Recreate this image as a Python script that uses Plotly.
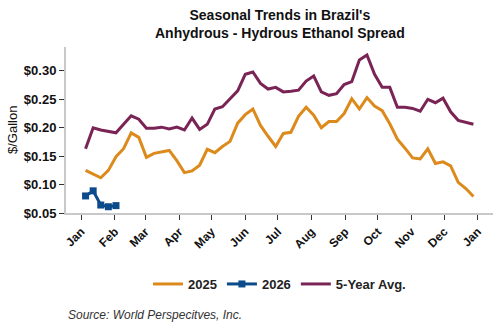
import plotly.graph_objects as go
import pandas as pd

# Weekly dates (seasonal axis, plotted on a 2025 calendar)
weeks = pd.date_range("2025-01-05", periods=52, freq="7D")

month_ticks = pd.date_range("2025-01-01", "2026-01-01", freq="MS")
month_labels = ["Jan", "Feb", "Mar", "Apr", "May", "Jun", "Jul", "Aug", "Sep",
                "Oct", "Nov", "Dec", "Jan"]

y_ticks = [0.05, 0.10, 0.15, 0.20, 0.25, 0.30]
y_labels = ["$0.05", "$0.10", "$0.15", "$0.20", "$0.25", "$0.30"]

y2025 = [0.125, 0.119, 0.112, 0.125, 0.149, 0.163, 0.191, 0.183, 0.148, 0.155,
         0.157, 0.160, 0.142, 0.121, 0.124, 0.134, 0.162, 0.156, 0.167, 0.176,
         0.208, 0.223, 0.233, 0.204, 0.185, 0.167, 0.190, 0.192, 0.220, 0.236,
         0.222, 0.200, 0.211, 0.211, 0.225, 0.251, 0.233, 0.253, 0.238, 0.230,
         0.207, 0.180, 0.164, 0.147, 0.145, 0.163, 0.137, 0.140, 0.133, 0.104,
         0.093, 0.079]

y2026 = [0.080, 0.089, 0.064, 0.061, 0.063]

avg5 = [0.163, 0.200, 0.196, 0.193, 0.191, 0.206, 0.221, 0.215, 0.199, 0.199,
        0.201, 0.198, 0.201, 0.196, 0.217, 0.197, 0.206, 0.233, 0.237, 0.251,
        0.265, 0.294, 0.298, 0.278, 0.268, 0.271, 0.263, 0.264, 0.266, 0.282,
        0.291, 0.263, 0.257, 0.260, 0.276, 0.281, 0.319, 0.328, 0.294, 0.271,
        0.271, 0.236, 0.236, 0.234, 0.229, 0.250, 0.244, 0.252, 0.228, 0.213,
        0.210, 0.206]

FONT = "Liberation Sans, Arial, sans-serif"

fig = go.Figure()
fig.add_trace(go.Scatter(x=weeks, y=y2025, name="<b>2025</b>", mode="lines",
                         line=dict(color="#DC8A1C", width=3)))
fig.add_trace(go.Scatter(x=weeks[:len(y2026)], y=y2026, name="<b>2026</b>", mode="lines+markers",
                         line=dict(color="#0B4A8B", width=3),
                         marker=dict(symbol="square", size=7, color="#0B4A8B")))
fig.add_trace(go.Scatter(x=weeks, y=avg5, name="<b>5-Year Avg.</b>", mode="lines",
                         line=dict(color="#7A2456", width=3)))

fig.update_layout(
    width=500, height=330,
    margin=dict(l=66, r=7, t=47, b=117),
    paper_bgcolor="white", plot_bgcolor="white",
    font=dict(family=FONT, color="#111"),
    showlegend=True,
    legend=dict(orientation="h", x=0.5, xanchor="center", y=-71/166, yanchor="middle",
                font=dict(size=13, family=FONT, color="#222"), itemwidth=30,
                traceorder="normal", bgcolor="rgba(0,0,0,0)"),
    xaxis=dict(
        range=["2024-12-18", "2026-01-15"],
        tickmode="array",
        tickvals=month_ticks,
        ticktext=["<b>%s</b>" % m for m in month_labels],
        tickangle=-45,
        tickfont=dict(size=12, family=FONT, color="#111"),
        showgrid=False, zeroline=False,
        showline=True, linecolor="#c8c8c8", linewidth=2,
        ticks="outside", ticklen=5, tickcolor="#333", tickwidth=1,
    ),
    yaxis=dict(
        range=[0.05, 0.342],
        tickmode="array",
        tickvals=y_ticks,
        ticktext=["<b>%s</b>" % t for t in y_labels],
        tickfont=dict(size=13, family=FONT, color="#111"),
        showgrid=False, zeroline=False,
        showline=True, linecolor="#c8c8c8", linewidth=2,
        ticks="outside", ticklen=5, tickcolor="#333", tickwidth=1,
    ),
    annotations=[
        dict(text="<b>Seasonal Trends in Brazil's<br>Anhydrous - Hydrous Ethanol Spread</b>",
             xref="paper", yref="paper", x=0.5, y=(213 - 24) / 166,
             xanchor="center", yanchor="middle", showarrow=False,
             font=dict(size=14, family=FONT, color="#111")),
        dict(text="$/Gallon", textangle=-90, xref="paper", yref="paper",
             x=-54/427, y=0.5, xanchor="center", yanchor="middle", showarrow=False,
             font=dict(size=13, family=FONT, color="#111")),
        dict(text="<i>Source: World Perspecitves, Inc.</i>", xref="paper", yref="paper",
             x=0.0, y=-102/166, xanchor="left", yanchor="middle", showarrow=False,
             font=dict(size=12, family=FONT, color="#333")),
    ],
)

fig.write_html("out.html")
